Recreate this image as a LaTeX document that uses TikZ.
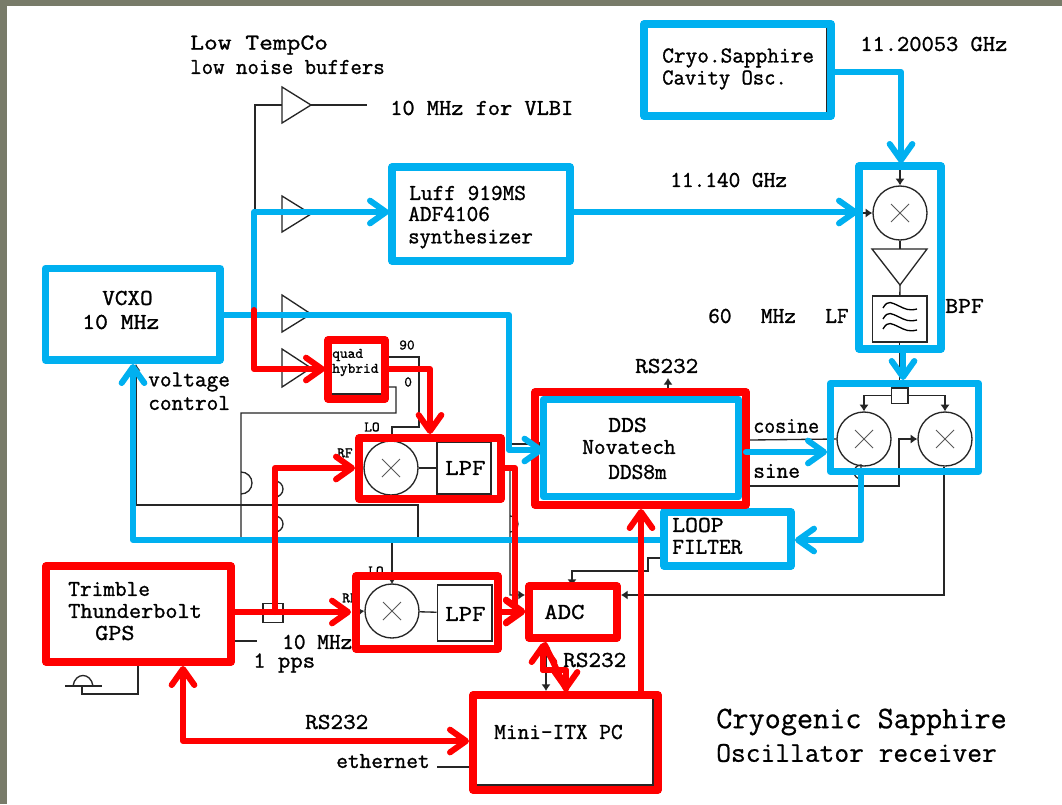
\documentclass[tikz,border=0pt]{standalone}
\usepackage{fontspec}
\usepackage{graphicx}
\usetikzlibrary{arrows.meta}
\newfontfamily\hwfont[FakeBold=1.2]{Latin Modern Mono}
\newfontfamily\hwlight[FakeBold=0.7]{Latin Modern Mono}
\definecolor{bg}{HTML}{787B69}
\definecolor{cblue}{HTML}{00B0F0}
\definecolor{cred}{HTML}{FF0000}
\newcommand{\sx}[2]{\scalebox{#1}[1]{#2}}
\tikzset{
 x=0.75pt,y=-0.75pt,
 fat/.style={line width=4.5pt,line join=round,line cap=round},
 blu/.style={fat,draw=cblue},
 redl/.style={fat,draw=cred},
 conn/.style={line width=4.5pt,line join=round,line cap=round,arrows={-Straight Barb[length=12pt,width=17pt,line width=4.5pt,round]}},
 bconn/.style={conn,draw=cblue},
 rconn/.style={conn,draw=cred},
 thin/.style={draw=black!85,line width=1pt,line join=miter},
 thinp/.style={thin,-{Latex[length=5pt,width=7pt]}},
 gray/.style={draw=black!65,line width=0.7pt},
 tx/.style={anchor=west,inner sep=0pt,font=\fontsize{17}{20}\selectfont\hwfont},
 tiny/.style={anchor=west,inner sep=0pt,font=\fontsize{11}{12}\selectfont\hwfont},
 bigt/.style={anchor=west,inner sep=0pt,font=\fontsize{23.5}{26}\selectfont\hwlight},
 bigu/.style={anchor=west,inner sep=0pt,font=\fontsize{21.5}{26}\selectfont\hwlight},
}
\newcommand{\boxat}[6]{\node[draw=#6,line width=5.5pt,rectangle,inner sep=0pt,outer sep=0pt,minimum width={(#4-#2)*0.75pt},minimum height={(#5-#3)*0.75pt},anchor=center,line join=round] (#1) at ({(#2+#4)/2},{(#3+#5)/2}) {};}
\begin{document}
\begin{tikzpicture}
\useasboundingbox (0,0) rectangle (1062,804);
\fill[bg] (0,0) rectangle (1062,804);
\fill[white] (7,6) rectangle (1062,804);

% thin black: buffers
\coordinate (j0) at (255,105);
\coordinate (j1) at (255,214);
\node[inner sep=0pt,minimum size=0pt] (vlbiend) at (367,105) {};
\draw[thin] (282,87) -- (282,123) -- (311,105) -- cycle;
\draw[thin] (282,196) -- (282,232) -- (311,214) -- cycle;
\draw[thin] (282,295) -- (282,332) -- (311,314) -- cycle;
\draw[thin] (282,349) -- (282,387) -- (311,368) -- cycle;
\draw[thin] (255,368) -- (j1) -- (j0) -- (282,105);
\draw[thin] (311,105) -- (vlbiend);
\draw[thin] (j1) -- (282,214);
\fill (255,212) circle (3);
\draw[thin] (311,314) -- (509,314) -- (509,444);
\draw[thinp] (509,444) -- (543,444);

% quad hybrid outputs
\coordinate (hy90) at (419,357);
\coordinate (hy0) at (396,387);
\coordinate (mixLO1) at (392,442);
\draw[thinp] (389,357) -- (hy90) -- (419,427) -- (392,427) -- (mixLO1);
\draw[thin] (389,387) -- (hy0) -- (396,413) -- (241,413) -- (241,494) arc[start angle=90,end angle=-90,radius=11] -- (241,540) -- (392,540);
\draw[thinp] (392,540) -- (392,584);
% voltage control line
\draw[thinp] (418,540) -- (418,505) -- (136,505) -- (136,364);
% ref line behind red
\draw[thin] (275,468) -- (275,497) arc[start angle=90,end angle=-90,radius=8] -- (275,532) arc[start angle=90,end angle=-90,radius=8] -- (275,603);
% mixer 1
\node[circle,thin,draw,minimum size=40.5pt,inner sep=0pt] (m1) at (391,468) {};
\node[thin,draw,rectangle,minimum width=40.5pt,minimum height=39pt,inner sep=0pt] (lpf1) at (464,468) {};
\draw[gray] (382,459) -- (400,477) (382,477) -- (400,459);
\draw[thin] (m1) -- (lpf1);
% mixer 2
\node[circle,thin,draw,minimum size=40.5pt,inner sep=0pt] (m2) at (392,611) {};
\node[thin,draw,rectangle,minimum width=41pt,minimum height=42pt,inner sep=0pt] (lpf2) at (464.5,613) {};
\draw[gray] (383,602) -- (401,620) (383,620) -- (401,602);
\draw[thin] (m2) -- (lpf2);
\draw[thinp] (355,612) -- (m2.west);
% mixer 3 chain
\node[circle,thin,draw,minimum size=40.5pt,inner sep=0pt] (m3) at (900,213) {};
\draw[gray] (891,204) -- (909,222) (891,222) -- (909,204);
\draw[thin] (872,249) -- (927,249) -- (900,285) -- cycle;
\node[thin,draw,rectangle,minimum width=41pt,minimum height=34.5pt,inner sep=0pt] (bpf) at (899.5,319) {};
\foreach \yy in {306,317,327}{
 \draw[line width=1pt] (883,\yy+2) .. controls (888,\yy-7) and (892,\yy-3) .. (899,\yy) .. controls (905,\yy+3) and (909,\yy+5) .. (917,\yy+3);}
\draw[thin] (m3) -- (900,249);
\draw[thin] (900,285) -- (bpf);
\draw[thinp] (900,166) -- (m3.north);
\draw[thinp] (860,213) -- (m3.west);
% lower mixers
\node[circle,thin,draw,minimum size=40.5pt,inner sep=0pt] (m4) at (864,439) {};
\node[circle,thin,draw,minimum size=40.5pt,inner sep=0pt] (m5) at (945,439) {};
\draw[gray] (855,430) -- (873,448) (855,448) -- (873,430);
\draw[gray] (936,430) -- (954,448) (936,448) -- (954,430);
\node[thin,draw,rectangle,minimum width=12.5pt,minimum height=11.5pt,inner sep=0pt] (spl) at (899.5,395.5) {};
\draw[thin] (bpf) -- (spl);
\draw[thinp] (spl.west) -- (864,395.5) -- (m4.north);
\draw[thinp] (spl.east) -- (945,395.5) -- (m5.north);
\draw[thinp] (750,486) -- (899,486) -- (899,439) -- (m5.west);
\draw[thin] (750,440) -- (m4.west);
\draw[thinp] (944,467) -- (944,595) -- (621,595);
\draw[thinp] (861,467) -- (861,479) arc[start angle=90,end angle=270,radius=7] -- (861,540) -- (795,540);
% to ADC
\draw[thinp] (660,558) -- (648,558) -- (648,571) -- (572,571) -- (572,586);
\draw[thinp] (505,468) -- (510,468) -- (510,532) arc[start angle=90,end angle=-90,radius=8] -- (510,595) -- (525,595);
% ADC-Mini
\draw[thin,{Latex[length=5pt,width=7pt]}-{Latex[length=5pt,width=7pt]}] (546,642) -- (546,691);
% RS232 on DDS
\draw[thinp] (668,396) -- (668,378);
% ethernet, 1pps, antenna
\coordinate (ethend) at (437,767);
\draw[thin] (ethend) -- (469,767);
\coordinate (ppsend) at (257,641);
\draw[thin] (235,641) -- (ppsend);
\coordinate (antb) at (82,686);
\draw[thin] (65,686) -- (102,686);
\draw[thin] (73,686) .. controls (75,672) and (91,672) .. (93,686);
\draw[thin] (antb) -- (82,694) -- (138,694) -- (138,666);
% splitter at GPS
\node[thin,draw,rectangle,fill=white,minimum width=15pt,minimum height=14pt,inner sep=0pt] (gsp) at (273,613) {};

% inner black edges
\draw[thin] (827,27) -- (827,113) -- (647,113);
\draw[thin] (653,698) -- (653,785) -- (476,785);
\draw[thin] (49,357) -- (216,357);
\draw[thin] (332,394) -- (381,394);

% texts partly hidden by the boxes
\node[tx] (t15) at (708,316) {60\hspace{22pt}MHz\hspace{22pt}LF};
\node[tx] (t16) at (945,306) {\sx{1.1}{BPF}};
\node[tx] (t28) at (282,642) {10 MHz};
\node[tiny] (t43) at (364,427) {LO};
\node[tiny] (t44) at (337,453) {RF};
\node[tiny] (t45) at (368,571) {LO};
\node[tiny] (t46) at (342,598) {RF};

% boxes
\boxat{vcxo}{45.5}{268.5}{220}{360}{cblue}
\boxat{luff}{392}{167}{570}{261}{cblue}
\boxat{cryo}{644}{24}{831}{116}{cblue}
\boxat{gp1}{859}{166}{941}{349}{cblue}
\boxat{gp2}{830.5}{383.5}{978.5}{471.5}{cblue}
\boxat{loop}{664}{512}{791}{566}{cblue}
\boxat{ddsr}{535}{392}{746}{505}{cred}
\boxat{dds}{543.5}{399.5}{738.5}{496.5}{cblue}
\boxat{hyb}{328}{340}{385}{399}{cred}
\boxat{mx1}{359}{438}{501}{499}{cred}
\boxat{mx2}{356}{576}{498}{649}{cred}
\boxat{adc}{529}{586}{617}{638}{cred}
\boxat{pc}{473}{695}{658}{790}{cred}
\boxat{gps}{46}{566}{231}{662}{cred}

% coloured connectors
\coordinate (c1) at (901,72);
\draw[bconn] (cryo.east |- c1) -- (c1) -- (901,163);
\coordinate (c2) at (858,212);
\draw[bconn] (luff.east |- c2) -- (c2);
\coordinate (c3) at (509,315);
\draw[bconn] (vcxo.east |- c3) -- (c3) -- (509,450) -- (dds.west |- 0,450);
\coordinate (c4) at (254,315);
\draw[bconn] (c4) -- (254,212) -- (389,212);
\coordinate (c5) at (903,352);
\draw[bconn] (c5) -- (903,380);
\coordinate (c6) at (827,452);
\draw[bconn] (ddsr.east |- c6) -- (c6);
\coordinate (c7) at (861,471);
\draw[bconn] (c7) -- (861,540) -- (795,540);
\coordinate (c8) at (133,540);
\draw[bconn] (loop.west |- c8) -- (c8) -- (133,364);

\coordinate (r1) at (254,310);
\draw[rconn] (r1) -- (254,369) -- (325,369);
\coordinate (r2) at (430,369);
\draw[rconn] (hyb.east |- r2) -- (r2) -- (430,434);
\coordinate (r3) at (515,468);
\draw[rconn] (mx1.east |- r3) -- (r3) -- (515,611) -- (525,611);
\coordinate (r4) at (525,612);
\draw[rconn] (mx2.east |- r4) -- (r4);
\coordinate (r5) at (351,612);
\draw[rconn] (gps.east |- r5) -- (r5);
\coordinate (r6) at (275,612);
\draw[rconn] (r6) -- (275,468) -- (355,468);
\coordinate (r7) at (183,741);
\draw[conn,draw=cred,arrows={Straight Barb[length=12pt,width=17pt,line width=4.5pt,round]-Straight Barb[length=12pt,width=17pt,line width=4.5pt,round]}] (183,666) -- (r7) -- (469,741);
\coordinate (r8) at (641,691);
\draw[rconn] (r8) -- (641,509);
\coordinate (r9) at (543,670);
\draw[rconn] (r9) -- (543,643);
\draw[rconn] (r9) -- (566,670) -- (566,691);
\draw[redl] (545,645) -- (566,689);

% texts
\node[tx] (t1) at (190,45) {\sx{1.18}{Low TempCo}};
\node[tx] (t2) at (190,67) {\sx{0.98}{low noise buffers}};
\node[tx] (t3) at (390,108) {\sx{1.045}{10 MHz for VLBI}};
\node[tx] (t4) at (409,193) {Luff 919MS};
\node[tx] (t5) at (408,214) {ADF4106};
\node[tx] (t6) at (408,239) {\sx{0.97}{synthesizer}};
\node[tx] (t7) at (102,298) {\sx{1.08}{VCXO}};
\node[tx] (t8) at (82,322) {\sx{1.1}{10 MHz}};
\node[tx] (t9) at (148,382) {voltage};
\node[tx] (t10) at (148,403) {control};
\node[tx] (t11) at (662,58) {Cryo.Sapphire};
\node[tx] (t12) at (662,80) {\sx{0.97}{Cavity Osc.}};
\node[tx] (t13) at (860,44) {\sx{1.05}{11.20053 GHz}};
\node[tx] (t14) at (670,180) {11.140 GHz};
\node[tx] (t17) at (635,366) {\sx{1.08}{RS232}};
\node[tx] (t18) at (608,425) {\sx{1.1}{DDS}};
\node[tx] (t19) at (582,447) {Novatech};
\node[tx] (t20) at (608,472) {DDS8m};
\node[tx] (t21) at (753,426) {\sx{0.94}{cosine}};
\node[tx] (t22) at (753,471) {sine};
\node[tx] (t23) at (672,525) {\sx{1.1}{LOOP}};
\node[tx] (t24) at (672,547) {FILTER};
\node[tx] (t25) at (68,589) {Trimble};
\node[tx] (t26) at (68,611) {\sx{1.04}{Thunderbolt}};
\node[tx] (t27) at (95,633) {\sx{1.12}{GPS}};
\node[tx] (t29) at (253,663) {\sx{1.06}{1 pps}};
\node[tx] (t30) at (305,722) {\sx{1.08}{RS232}};
\node[tx] (t31) at (336,761) {ethernet};
\node[tx] (t32) at (494,732) {Mini-ITX PC};
\node[tx] (t33) at (544,612) {\sx{1.15}{ADC}};
\node[tx] (t34) at (445,468) {\sx{1.15}{LPF}};
\node[tx] (t35) at (445,614) {\sx{1.15}{LPF}};
\node[tx] (t36) at (563,660) {\sx{1.08}{RS232}};
\node[bigt] (t37) at (716,722) {Cryogenic Sapphire};
\node[bigu] (t38) at (716,753) {Oscillator receiver};
\node[tiny] (t39) at (332,355) {quad};
\node[tiny] (t40) at (332,370) {hybrid};
\node[tiny] (t41) at (399,345) {90};
\node[tiny] (t42) at (404,382) {0};
\end{tikzpicture}
\end{document}
